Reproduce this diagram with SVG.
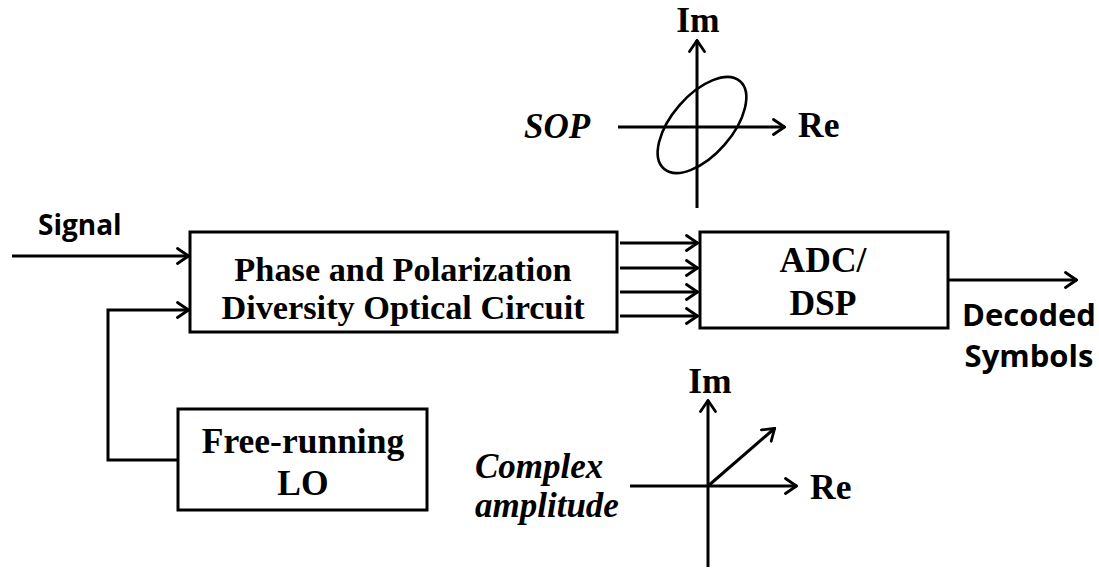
<svg xmlns="http://www.w3.org/2000/svg" width="1099" height="570" viewBox="0 0 1099 570">
<defs>
<marker id="arr" viewBox="0 0 14 18" refX="13" refY="9" markerWidth="14" markerHeight="18" markerUnits="userSpaceOnUse" orient="auto">
<path d="M1.5,1.5 L12.5,9 L1.5,16.5" fill="none" stroke="#000" stroke-width="2.8" stroke-linecap="round" stroke-linejoin="miter"/>
</marker>
<style>
.box{fill:#fff;stroke:#000;stroke-width:3}
.ln{fill:none;stroke:#000;stroke-width:3}
.tb{font-family:"Liberation Serif","Times New Roman",serif;font-weight:bold;font-size:35.5px;fill:#000}
.tm{font-family:"Liberation Serif","Times New Roman",serif;font-weight:bold;font-size:34.3px;fill:#000}
.ti{font-family:"Liberation Serif","Times New Roman",serif;font-weight:bold;font-style:italic;font-size:35px;fill:#000}
.ts{font-family:"Open Sans","Liberation Sans",sans-serif;font-weight:bold;fill:#000}
</style>
</defs>
<rect width="1099" height="570" fill="#fff"/>
<g id="connectors">
<line class="ln" x1="12" y1="256" x2="189" y2="256" marker-end="url(#arr)"/>
<polyline class="ln" points="178,460 108,460 108,310 189,310" marker-end="url(#arr)"/>
<line class="ln" x1="620" y1="243" x2="698" y2="243" marker-end="url(#arr)"/>
<line class="ln" x1="620" y1="268" x2="698" y2="268" marker-end="url(#arr)"/>
<line class="ln" x1="620" y1="292" x2="698" y2="292" marker-end="url(#arr)"/>
<line class="ln" x1="620" y1="316" x2="698" y2="316" marker-end="url(#arr)"/>
<line class="ln" x1="948" y1="280" x2="1077" y2="280" marker-end="url(#arr)"/>
</g>
<g id="signal-label"><text class="ts" x="38" y="235" font-size="28">Signal</text></g>
<g id="pdoc">
<rect class="box" x="190" y="232" width="427" height="100"/>
<text class="tm" x="403" y="281" text-anchor="middle">Phase and Polarization</text>
<text class="tm" x="403" y="319" text-anchor="middle">Diversity Optical Circuit</text>
</g>
<g id="adc">
<rect class="box" x="700" y="232" width="248" height="96"/>
<text class="tb" x="823" y="272" text-anchor="middle">ADC/</text>
<text class="tb" x="823" y="315" text-anchor="middle">DSP</text>
</g>
<g id="decoded-label">
<text class="ts" x="1029" y="326" font-size="31" text-anchor="middle">Decoded</text>
<text class="ts" x="1029" y="367" font-size="31" text-anchor="middle">Symbols</text>
</g>
<g id="lo">
<rect class="box" x="178" y="409" width="249" height="101"/>
<text class="tb" x="303" y="453" text-anchor="middle">Free-running</text>
<text class="tb" x="303" y="495" text-anchor="middle">LO</text>
</g>
<g id="sop-plot">
<line class="ln" x1="697" y1="208" x2="697" y2="40" marker-end="url(#arr)"/>
<line class="ln" x1="618" y1="127" x2="785" y2="127" marker-end="url(#arr)"/>
<ellipse cx="702" cy="125" rx="58" ry="30" transform="rotate(-49 702 125)" fill="none" stroke="#000" stroke-width="2.6"/>
<text class="tb" x="698" y="32" text-anchor="middle">Im</text>
<text class="tb" x="798" y="137">Re</text>
<text class="ti" x="524" y="138">SOP</text>
</g>
<g id="complex-plot">
<line class="ln" x1="708" y1="567" x2="708" y2="400" marker-end="url(#arr)"/>
<line class="ln" x1="630" y1="486" x2="797" y2="486" marker-end="url(#arr)"/>
<line class="ln" x1="708" y1="486" x2="775" y2="428" marker-end="url(#arr)"/>
<text class="tb" x="710" y="393" text-anchor="middle">Im</text>
<text class="tb" x="810" y="499">Re</text>
<text class="ti" x="475" y="478">Complex</text>
<text class="ti" x="475" y="517">amplitude</text>
</g>
</svg>
